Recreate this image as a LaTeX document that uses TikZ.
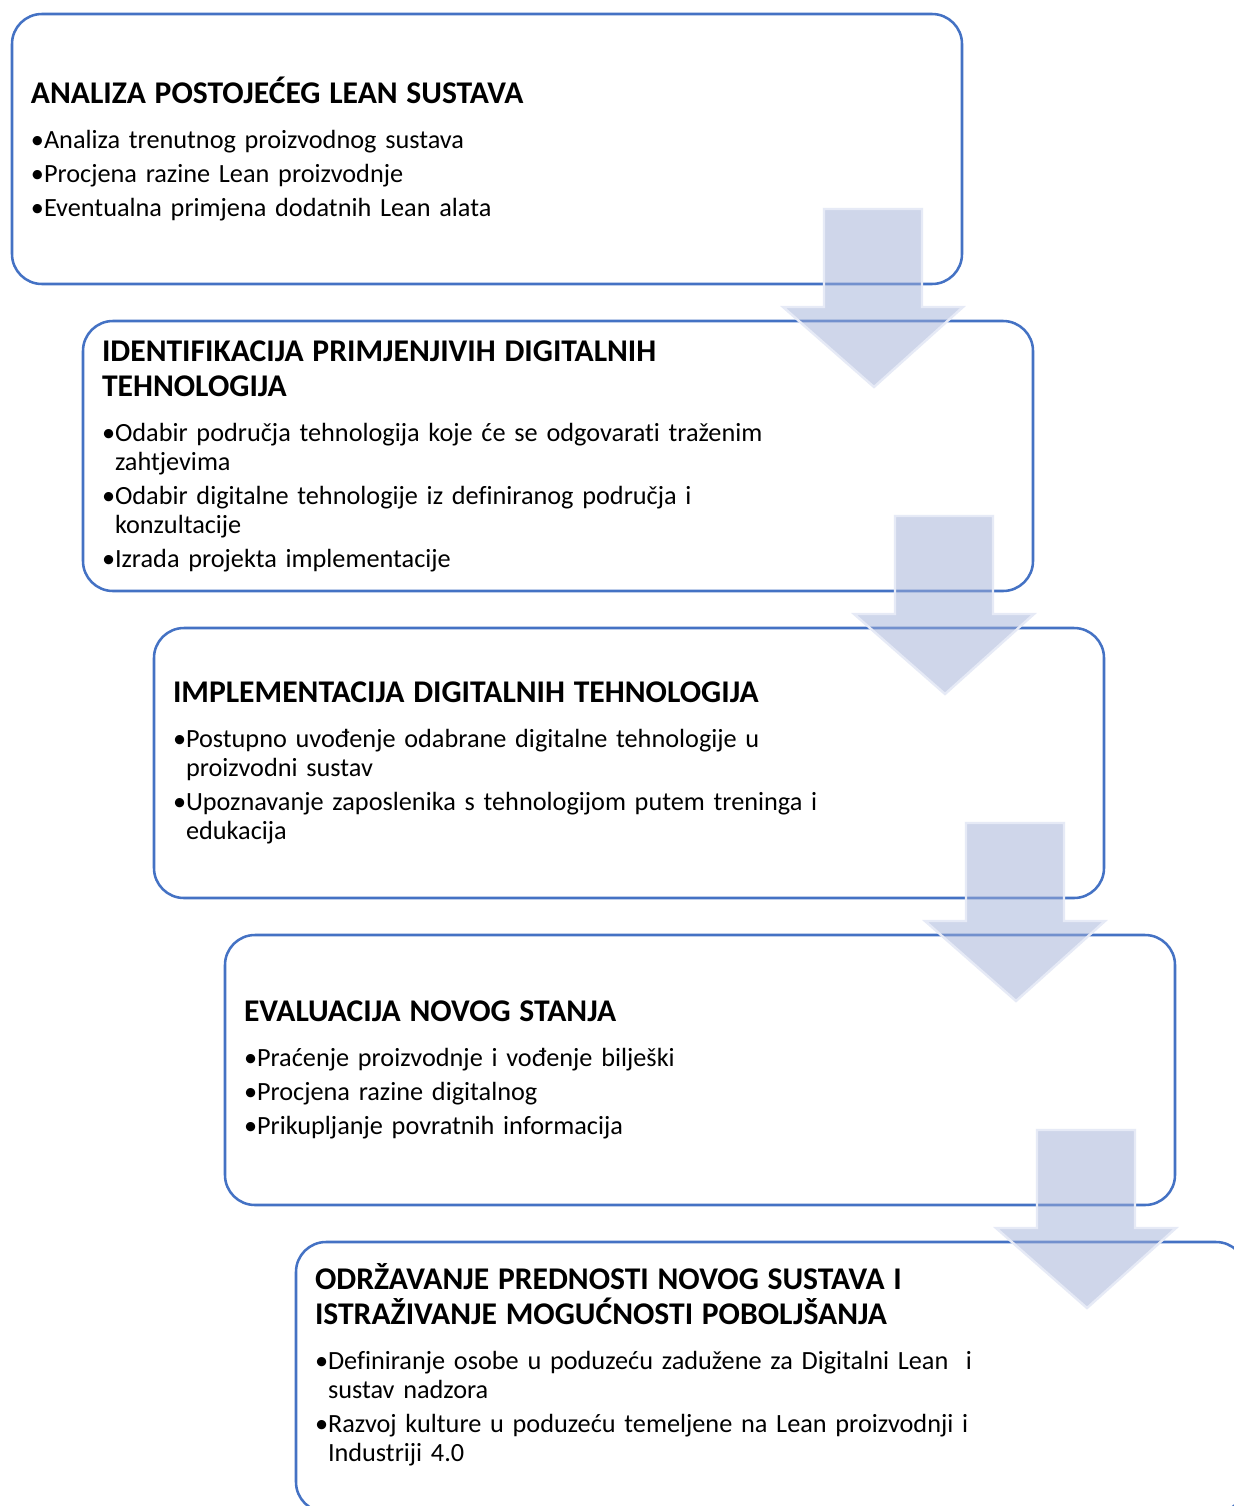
\documentclass[tikz,border=0pt]{standalone}
\usepackage{fontspec}
\setmainfont{Carlito}[Ligatures=NoCommon]
\usetikzlibrary{positioning}
\definecolor{boxblue}{RGB}{68,114,196}
\definecolor{arrowfill}{RGB}{160,175,215}
\definecolor{arrowedge}{RGB}{230,234,246}
\newlength{\bw}\setlength{\bw}{9.75pt}
\newcommand{\titlef}{\bfseries\fontsize{23.7}{26.25}\selectfont}
\newcommand{\bodyf}{\fontsize{19.7}{21.75}\selectfont}
\newcommand{\steptitle}[1]{{\titlef #1\par}\vspace{8.25pt}}
\newcommand{\stepitem}[1]{\par\noindent\makebox[\bw][l]{•}#1}
\newcommand{\wrapline}{\\\hspace*{\bw}}
\tikzset{
    stepbox/.style={rectangle, rounded corners=22.5pt, draw=boxblue, fill=white, line width=1.9pt, outer sep=0pt, minimum width=712.5pt, minimum height=202.5pt, text width=684pt, inner xsep=14.25pt, align=left, font=\bodyf, execute at begin node={\setlength{\parskip}{3.75pt}}},
    downarrow/.style={fill=arrowfill, fill opacity=0.5, draw=arrowedge, line width=1.8pt, line join=miter}
}
\begin{document}
\begin{tikzpicture}[x=0.75pt, y=-0.75pt]
\useasboundingbox (0,0) rectangle (1234,1506);
\clip (0,0) rectangle (1234,1506);
\node[stepbox, anchor=north west] (analiza) at (12,14) {\steptitle{ANALIZA POSTOJEĆEG LEAN SUSTAVA}
  \stepitem{Analiza trenutnog proizvodnog sustava}
  \stepitem{Procjena razine Lean proizvodnje}
  \stepitem{Eventualna primjena dodatnih Lean alata}};
\node[stepbox, below=27.75pt of analiza.south west, anchor=north west, xshift=53.25pt] (identifikacija) {\steptitle{IDENTIFIKACIJA PRIMJENJIVIH DIGITALNIH\\TEHNOLOGIJA}
  \stepitem{Odabir područja tehnologija koje će se odgovarati traženim\wrapline zahtjevima}
  \stepitem{Odabir digitalne tehnologije iz definiranog područja i\wrapline konzultacije}
  \stepitem{Izrada projekta implementacije}};
\node[stepbox, below=27.75pt of identifikacija.south west, anchor=north west, xshift=53.25pt] (implementacija) {\steptitle{IMPLEMENTACIJA DIGITALNIH TEHNOLOGIJA}
  \stepitem{Postupno uvođenje odabrane digitalne tehnologije u\wrapline proizvodni sustav}
  \stepitem{Upoznavanje zaposlenika s tehnologijom putem treninga i\wrapline edukacija}};
\node[stepbox, below=27.75pt of implementacija.south west, anchor=north west, xshift=53.25pt] (evaluacija) {\steptitle{EVALUACIJA NOVOG STANJA}
  \stepitem{Praćenje proizvodnje i vođenje bilješki}
  \stepitem{Procjena razine digitalnog}
  \stepitem{Prikupljanje povratnih informacija}};
\node[stepbox, below=27.75pt of evaluacija.south west, anchor=north west, xshift=53.25pt] (odrzavanje) {\steptitle{ODRŽAVANJE PREDNOSTI NOVOG SUSTAVA I\\ISTRAŽIVANJE MOGUĆNOSTI POBOLJŠANJA}
  \stepitem{Definiranje osobe u poduzeću zadužene za Digitalni Lean~ i\wrapline sustav nadzora}
  \stepitem{Razvoj kulture u poduzeću temeljene na Lean proizvodnji i\wrapline Industriji 4.0}\par\kern18pt};

\foreach \a in {analiza, identifikacija, implementacija, evaluacija}
  \draw[downarrow, shift={(\a.south east)}] (-138,-75) -- (-40,-75) -- (-40,23) -- (1,23) -- (-88,103) -- (-179,23) -- (-138,23) -- cycle;
\end{tikzpicture}
\end{document}
